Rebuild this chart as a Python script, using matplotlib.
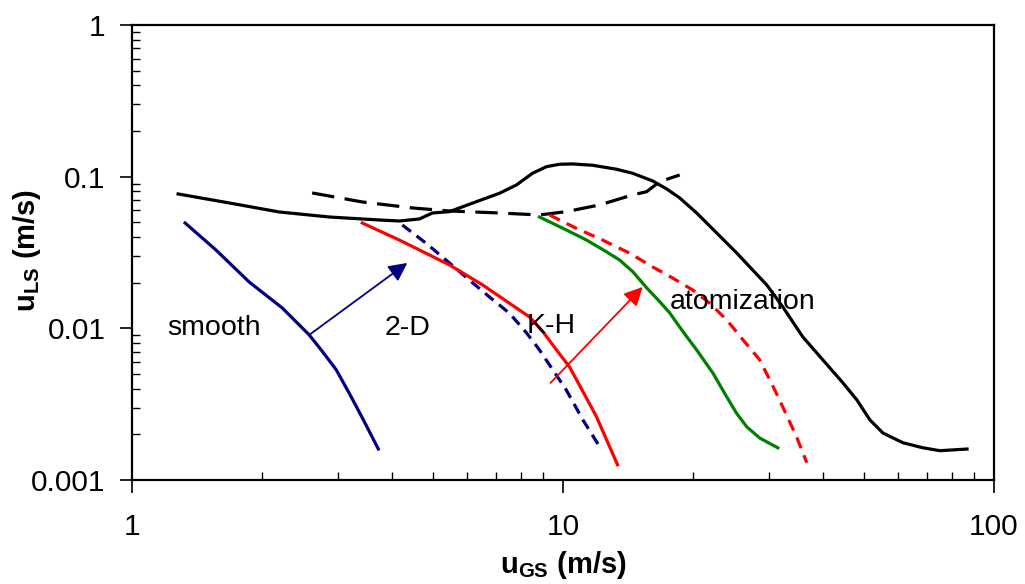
import matplotlib
matplotlib.use("Agg")
import matplotlib.pyplot as plt

plt.rcParams['font.family'] = ['Liberation Sans', 'DejaVu Sans']
plt.rcParams['mathtext.fontset'] = 'custom'
plt.rcParams['mathtext.rm'] = 'Liberation Sans'
plt.rcParams['mathtext.bf'] = 'Liberation Sans:bold'

# transition boundaries, u_GS (m/s) vs u_LS (m/s)
atom_x = [1.279, 1.680, 2.195, 2.869, 3.748, 4.171, 4.642, 4.976, 5.450, 6.296, 7.120, 7.798,
          8.494, 9.155, 9.815, 10.52, 11.71, 13.31, 14.50, 16.14, 17.40, 18.65, 20.42,
          22.73, 25.29, 27.12, 29.70, 32.35, 36.00, 40.07, 44.60, 48.06, 51.52, 55.23,
          61.46, 68.41, 74.91, 86.56]
atom_y = [0.0769, 0.0671, 0.0585, 0.0542, 0.0518, 0.0510, 0.0526, 0.0576, 0.0588, 0.0684,
          0.0777, 0.0882, 0.1053, 0.1164, 0.1207, 0.1213, 0.1189, 0.1119, 0.1053, 0.0937,
          0.0830, 0.0724, 0.0576, 0.0425, 0.0314, 0.0254, 0.0193, 0.01384, 0.00878,
          0.00619, 0.00437, 0.00337, 0.00249, 0.00204, 0.00176, 0.00163, 0.00156, 0.00160]

dash_x = [2.618, 3.421, 4.471, 5.450, 7.120, 8.819, 10.17, 12.16, 14.50, 15.63, 16.76, 18.65]
dash_y = [0.0781, 0.0681, 0.0622, 0.0594, 0.0576, 0.0559, 0.0588, 0.0651, 0.0758, 0.0796,
          0.0927, 0.1026]

smooth_x = [1.328, 1.565, 1.870, 2.231, 2.577, 2.767, 2.978, 3.192, 3.427, 3.728]
smooth_y = [0.0495, 0.0329, 0.0202, 0.01363, 0.00905, 0.00702, 0.00532, 0.00373, 0.00255,
            0.00160]

blue_dash_x = [4.238, 4.811, 5.450, 6.066, 6.749, 7.511, 8.228, 8.819, 9.469, 10.17, 11.12,
               12.29]
blue_dash_y = [0.0480, 0.0364, 0.0270, 0.0208, 0.0161, 0.01258, 0.00933, 0.00720, 0.00532,
               0.00393, 0.00249, 0.00158]

kh_x = [3.421, 4.171, 5.450, 6.511, 7.511, 8.361, 8.976, 9.658, 10.35, 11.12, 11.95, 13.38]
kh_y = [0.0495, 0.0382, 0.0262, 0.0193, 0.01463, 0.01189, 0.00951, 0.00720, 0.00557,
        0.00383, 0.00262, 0.00126]

green_x = [8.819, 9.99, 11.34, 12.60, 13.53, 14.52, 15.63, 16.76, 17.68, 18.98, 20.42,
           22.28, 23.98, 25.26, 26.69, 28.60, 31.50]
green_y = [0.0542, 0.0457, 0.0382, 0.0320, 0.0282, 0.0236, 0.0185, 0.0150, 0.01264, 0.00951,
           0.00720, 0.00506, 0.00353, 0.00276, 0.00224, 0.00189, 0.00163]

red_dash_x = [9.303, 10.73, 12.35, 14.27, 16.14, 17.99, 19.99, 21.89, 23.98, 26.16, 28.60,
              30.72, 32.35, 34.81, 36.78]
red_dash_y = [0.0559, 0.0457, 0.0382, 0.0313, 0.0254, 0.0214, 0.0179, 0.01463, 0.01136,
              0.00839, 0.00619, 0.00413, 0.00303, 0.00193, 0.00130]

labels = ["smooth", "2-D", "K-H", "atomization"]
label_x = [1.551, 4.355, 9.404, 26.12]
label_y = [0.01006, 0.01006, 0.01037, 0.01493]

fig = plt.figure(figsize=(10.25, 5.84), dpi=100)
ax = fig.add_axes([0.1288, 0.1781, 0.8410, 0.7791])

lw = 2.3
kw = dict(lw=lw, solid_joinstyle='round', dash_joinstyle='round')
ax.plot(atom_x, atom_y, color='black', **kw)
ax.plot(dash_x, dash_y, color='black', dashes=(7, 3.3), **kw)
ax.plot(smooth_x, smooth_y, color='#000080', **kw)
ax.plot(blue_dash_x, blue_dash_y, color='#000080', dashes=(3.4, 2.2), **kw)
ax.plot(kh_x, kh_y, color='red', **kw)
ax.plot(green_x, green_y, color='green', **kw)
ax.plot(red_dash_x, red_dash_y, color='red', dashes=(3.6, 2.4), **kw)

# arrows
ax.annotate("", xy=(4.353, 0.0270), xytext=(2.577, 0.00905),
            arrowprops=dict(arrowstyle='-|>', color='#000080', lw=1.3,
                            mutation_scale=28, shrinkA=0, shrinkB=0))
ax.annotate("", xy=(15.30, 0.01874), xytext=(9.354, 0.00437),
            arrowprops=dict(arrowstyle='-|>', color='red', lw=1.3,
                            mutation_scale=28, shrinkA=0, shrinkB=0))

for t, x, y in zip(labels, label_x, label_y):
    ax.text(x, y, t, fontsize=20.5, ha='center', va='center')

ax.set_xscale('log')
ax.set_yscale('log')
ax.set_xlim(1, 100)
ax.set_ylim(0.001, 1)
ax.set_xticks([1, 10, 100])
ax.set_xticklabels(['1', '10', '100'])
ax.set_yticks([0.001, 0.01, 0.1, 1])
ax.set_yticklabels(['0.001', '0.01', '0.1', '1'])

ax.tick_params(which='major', direction='out', length=9, width=1.2, labelsize=21.5)
ax.tick_params(axis='x', which='major', pad=15)
ax.tick_params(axis='y', which='major', pad=10)
ax.tick_params(which='minor', direction='in', length=6, width=1)
for s in ax.spines.values():
    s.set_linewidth(1.6)

ax.set_xlabel(r'$\mathbf{u_{GS}}$ (m/s)', fontsize=21, fontweight='bold')
ax.set_ylabel(r'$\mathbf{u_{LS}}$ (m/s)', fontsize=21, fontweight='bold')
ax.xaxis.set_label_coords(0.5, -0.152)
ax.yaxis.set_label_coords(-0.103, 0.505)

fig.savefig("out.png", dpi=100)
